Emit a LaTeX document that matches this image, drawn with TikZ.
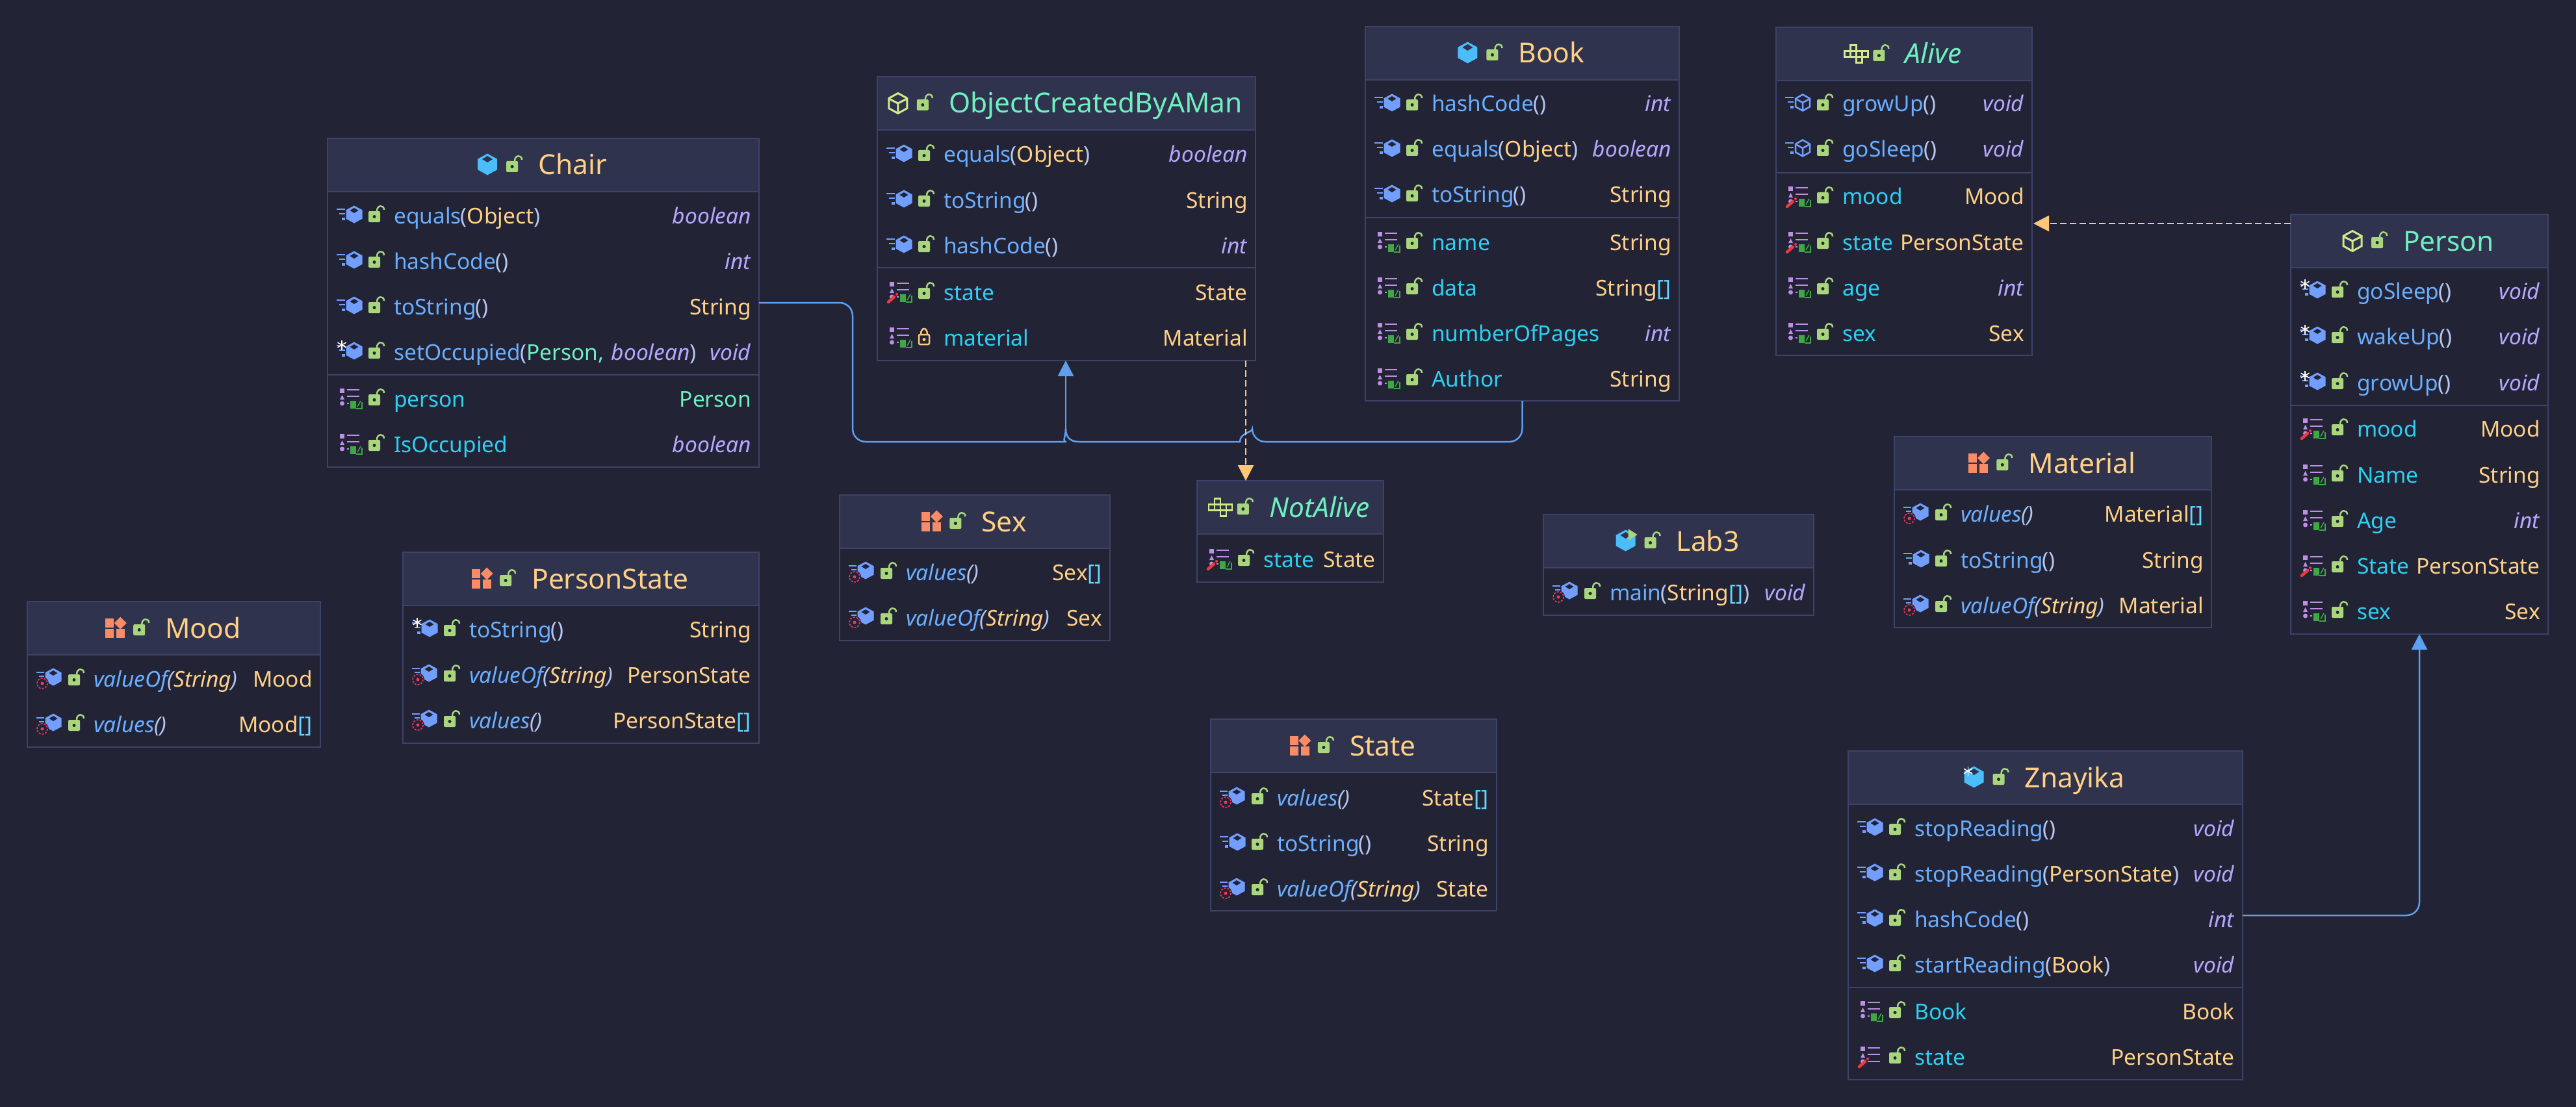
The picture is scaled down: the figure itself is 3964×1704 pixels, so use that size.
\documentclass[tikz,border=0pt]{standalone}
\usepackage{fontspec}
\setmainfont{Noto Sans}
\usetikzlibrary{arrows.meta}

\definecolor{bgcol}{HTML}{222436}
\definecolor{headcol}{HTML}{2F334D}
\definecolor{bordercol}{HTML}{3D4268}
\definecolor{mthcol}{HTML}{6AAEFF}
\definecolor{fldcol}{HTML}{2DD0F2}
\definecolor{parcol}{HTML}{B5C5EE}
\definecolor{typecol}{HTML}{FFD086}
\definecolor{primcol}{HTML}{B3A7FF}
\definecolor{brackcol}{HTML}{66D2FF}
\definecolor{greencol}{HTML}{6FF0C0}
\definecolor{hexcol}{HTML}{729FFF}
\definecolor{classblue}{HTML}{4BBDFB}
\definecolor{limecol}{HTML}{D4E88A}
\definecolor{enumcol}{HTML}{F98B66}
\definecolor{lockcol}{HTML}{A9D67C}
\definecolor{purpcol}{HTML}{BF8FE6}
\definecolor{bookcol}{HTML}{3FA845}
\definecolor{pencol}{HTML}{F03A3A}
\definecolor{staticcol}{HTML}{F5365C}
\definecolor{linkcol}{HTML}{5F9FF0}
\definecolor{depcol}{HTML}{FFC777}

\newcommand{\hexshape}[4]{({#1},{#2-#4}) -- ({#1+#3},{#2-#4/2}) -- ({#1+#3},{#2+#4/2}) -- ({#1},{#2+#4}) -- ({#1-#3},{#2+#4/2}) -- ({#1-#3},{#2-#4/2}) -- cycle}
\newcommand{\gemshape}[4]{({#1},{#2-#4}) -- ({#1+#3},{#2}) -- ({#1},{#2+#4}) -- ({#1-#3},{#2}) -- cycle}

\newcommand{\mn}[1]{\textcolor{mthcol}{#1}}
\newcommand{\fn}[1]{\textcolor{fldcol}{#1}}
\newcommand{\ty}[1]{\textcolor{typecol}{#1}}
\newcommand{\gty}[1]{\textcolor{greencol}{#1}}
\newcommand{\pty}[1]{\textcolor{primcol}{\textit{#1}}}
\newcommand{\arr}{\textcolor{brackcol}{[]}}
\newcommand{\call}[2]{\mn{#1}\kern-1pt\textcolor{parcol}{(}#2\textcolor{parcol}{)}}
\newcommand{\scall}[2]{\textit{\mn{#1}\kern-1pt\textcolor{parcol}{(}#2\textcolor{parcol}{)}}}

\tikzset{
  boxline/.style={draw=bordercol,line width=2.5pt},
  classbody/.style={boxline,fill=bgcol,rectangle,outer sep=0pt,inner sep=0pt,anchor=north west},
  classhead/.style={boxline,fill=headcol,rectangle,outer sep=0pt,inner sep=0pt,anchor=north,minimum height=82pt},
  classtitle/.style={inner sep=0pt,anchor=base,text height=30pt,text depth=0pt,font=\fontsize{42.5}{49}\selectfont},
  rowtext/.style={inner sep=0pt,font=\fontsize{33.5}{40}\selectfont},
  linkline/.style={draw=linkcol,line width=2.5pt,-,rounded corners=20pt},
  depline/.style={draw=depcol,line width=2.5pt,dash pattern=on 10pt off 5pt},
  pics/flake/.style={code={
    \foreach \a in {30,90,150}
      \draw[white,line width=1.5pt] ({7.5*cos(\a)},{7.5*sin(\a)}) -- ({-7.5*cos(\a)},{-7.5*sin(\a)});
  }},
  pics/mthlines/.style={code={
    \draw[hexcol,line width=2.5pt] (14,-10) -- (27,-10) (18,-3) -- (27,-3);
    \fill[hexcol] (22,3) rectangle (27,7);
  }},
  pics/mth/.style={code={
    \pic {mthlines};
    \fill[hexcol] \hexshape{41}{-2}{12.5}{13.5};
    \fill[bgcol] \gemshape{41}{-8}{6.5}{4};
  }},
  pics/mthover/.style={code={
    \pic {mth};
    \pic at (22,-11) {flake};
  }},
  pics/mthline/.style={code={
    \pic {mthlines};
    \draw[hexcol,line width=2.5pt] \hexshape{41}{-2}{11}{12.5};
    \draw[hexcol,line width=2.5pt] (30,-8) -- (41,-2) -- (52,-8) (41,-2) -- (41,10);
  }},
  pics/mthstatic/.style={code={
    \draw[hexcol,line width=2.5pt] (14,-10) -- (26,-10) (18,-4) -- (26,-4);
    \fill[hexcol] \hexshape{40}{-3}{12.5}{13.5};
    \fill[bgcol] \gemshape{40}{-9}{6.5}{4};
    \fill[bgcol] (23,7) circle[radius=10];
    \draw[staticcol,line width=1.6pt,dash pattern=on 3pt off 2pt] (23,7) circle[radius=8];
    \fill[staticcol] (23,7) circle[radius=2.5];
  }},
  pics/fldbase/.style={code={
    \fill[purpcol] (19,-16) rectangle (26,-9);
    \fill[purpcol] (19,1) -- (26,1) -- (22.5,-6) -- cycle;
    \fill[purpcol] (22.5,7) circle[radius=3.5];
    \draw[purpcol,line width=2.5pt] (30,-14) -- (49,-14) (30,-4) -- (49,-4) (30,7) -- (49,7);
  }},
  pics/fldbookmark/.style={code={
    \fill[bgcol] (33,2) rectangle (55,17);
    \fill[bookcol] (35,3) rectangle (44,15);
    \draw[bookcol,line width=1.5pt] (44,15) -- (53,15) -- (53,5);
    \draw[bookcol,line width=1.5pt] (46,12) -- (51,3);
  }},
  pics/fldpen/.style={code={
    \draw[pencol,line width=4.5pt,line cap=round] (17,15) -- (26,7);
    \fill[pencol] (30,3) circle[radius=2];
  }},
  pics/fld/.style={code={
    \pic {fldbase};
    \pic {fldbookmark};
  }},
  pics/fldwrite/.style={code={
    \pic {fldbase};
    \pic {fldpen};
    \pic {fldbookmark};
  }},
  pics/fldnobook/.style={code={
    \pic {fldbase};
    \pic {fldpen};
  }},
  pics/lockopen/.style={code={
    \fill[lockcol,rounded corners=2pt] (0,-7) rectangle (18,10);
    \fill[bgcol] (9,1.5) circle[radius=2.5];
    \draw[lockcol,line width=2.5pt] (13,-7) .. controls (13,-17) and (24,-17) .. (24,-9);
  }},
  pics/lockshut/.style={code={
    \draw[depcol,line width=2.5pt,rounded corners=2pt] (1,-5) rectangle (17,10);
    \fill[depcol] (9,2.5) circle[radius=2.5];
    \draw[depcol,line width=2.5pt] (4,-5) .. controls (4,-17) and (14,-17) .. (14,-5);
  }},
  pics/hexblue/.style={code={
    \fill[classblue] \hexshape{-78}{-1}{15}{16.5};
    \fill[headcol] \gemshape{-78}{-9}{8}{5};
  }},
  pics/hexrun/.style={code={
    \pic {hexblue};
    \fill[lockcol] (-74,-19) -- (-60,-10) -- (-74,-1) -- cycle;
  }},
  pics/hexfrost/.style={code={
    \pic {hexblue};
    \pic at (-87,-10) {flake};
  }},
  pics/hexoutline/.style={code={
    \draw[limecol,line width=3pt] \hexshape{-78}{0}{14}{15.5};
    \draw[limecol,line width=3pt] (-92,-7) -- (-78,0) -- (-64,-7) (-78,0) -- (-78,15);
  }},
  pics/ifacegrid/.style={code={
    \draw[limecol,line width=2.5pt] (-84,-13.5) rectangle (-75,-4.5);
    \draw[limecol,line width=2.5pt] (-93,-4.5) rectangle (-57,4.5);
    \draw[limecol,line width=2.5pt] (-84,-4.5) -- (-84,4.5) (-75,-4.5) -- (-75,4.5) (-66,-4.5) -- (-66,4.5);
    \draw[limecol,line width=2.5pt] (-75,4.5) rectangle (-66,13.5);
  }},
  pics/enumgrid/.style={code={
    \fill[enumcol] (-92,-15) rectangle (-79,-1);
    \fill[enumcol] (-92,1) rectangle (-79,15);
    \fill[enumcol] (-75,1) rectangle (-62,15);
    \fill[enumcol] \gemshape{-69}{-8}{9.5}{9.5};
  }}
}

\newcommand{\classbox}[8]{
  \node[classbody,minimum width=#4pt,minimum height=#5pt] (#1) at (#2,#3) {};
  \node[classhead,minimum width=#4pt] (#1Head) at (#1.north) {};
  \node[classtitle] (#1Title) at ([xshift=45,yshift=-15]#1Head.center) {#7};
  \pic at (#1Title.west) {#6};
  \pic at ([xshift=-49,yshift=-1]#1Title.west) {lockopen};
  \if\relax#8\relax\else
    \draw[boxline] ([yshift=-#8]#1.north west) -- ([yshift=-#8]#1.north east);
  \fi
}

\newcommand{\memberrow}[7]{
  \coordinate (#1#2) at ([yshift={-(#3-6)}]#1.north east);
  \pic at ([yshift=-#3]#1.north west) {#4};
  \pic at ([xshift=63,yshift=-#3]#1.north west) {#5};
  \node[rowtext,anchor=base west] (#1#2L) at ([xshift=102,yshift={-(#3+12)}]#1.north west) {#6};
  \node[rowtext,anchor=base east] (#1#2R) at ([xshift=-12,yshift={-(#3+12)}]#1.north east) {#7};
}

\begin{document}
\begin{tikzpicture}[x=1pt,y=-1pt,>={Triangle[length=24pt,width=24pt]}]
  \fill[bgcol] (0,0) rectangle (3964,1704);
  \useasboundingbox (0,0) rectangle (3964,1704);

  \classbox{Chair}{504}{213}{664}{506}{hexblue}{\ty{Chair}}{364}
  \memberrow{Chair}{M1}{119}{mth}{lockopen}{\call{equals}{\ty{Object}}}{\pty{boolean}}
  \memberrow{Chair}{M2}{189}{mth}{lockopen}{\call{hashCode}{}}{\pty{int}}
  \memberrow{Chair}{M3}{259}{mth}{lockopen}{\call{toString}{}}{\ty{String}}
  \memberrow{Chair}{M4}{329}{mthover}{lockopen}{\call{setOccupied}{\gty{Person,}\kern3pt\ \pty{boolean}}}{\pty{void}}
  \memberrow{Chair}{F1}{401}{fld}{lockopen}{\fn{person}}{\gty{Person}}
  \memberrow{Chair}{F2}{471}{fld}{lockopen}{\fn{IsOccupied}}{\pty{boolean}}

  \classbox{Object}{1350}{118}{582}{437}{hexoutline}{\gty{ObjectCreatedByAMan}}{294}
  \memberrow{Object}{M1}{120}{mth}{lockopen}{\call{equals}{\ty{Object}}}{\pty{boolean}}
  \memberrow{Object}{M2}{190}{mth}{lockopen}{\call{toString}{}}{\ty{String}}
  \memberrow{Object}{M3}{260}{mth}{lockopen}{\call{hashCode}{}}{\pty{int}}
  \memberrow{Object}{F1}{332}{fldwrite}{lockopen}{\fn{state}}{\ty{State}}
  \memberrow{Object}{F2}{402}{fld}{lockshut}{\fn{material}}{\ty{Material}}

  \classbox{Book}{2101}{41}{483}{576}{hexblue}{\ty{Book}}{294}
  \memberrow{Book}{M1}{119}{mth}{lockopen}{\call{hashCode}{}}{\pty{int}}
  \memberrow{Book}{M2}{189}{mth}{lockopen}{\call{equals}{\ty{Object}}}{\pty{boolean}}
  \memberrow{Book}{M3}{259}{mth}{lockopen}{\call{toString}{}}{\ty{String}}
  \memberrow{Book}{F1}{332}{fld}{lockopen}{\fn{name}}{\ty{String}}
  \memberrow{Book}{F2}{402}{fld}{lockopen}{\fn{data}}{\ty{String}\arr}
  \memberrow{Book}{F3}{472}{fld}{lockopen}{\fn{numberOfPages}}{\pty{int}}
  \memberrow{Book}{F4}{542}{fld}{lockopen}{\fn{Author}}{\ty{String}}

  \classbox{Alive}{2733}{42}{394}{505}{ifacegrid}{\textcolor{greencol}{\textit{Alive}}}{224}
  \memberrow{Alive}{M1}{118}{mthline}{lockopen}{\call{growUp}{}}{\pty{void}}
  \memberrow{Alive}{M2}{188}{mthline}{lockopen}{\call{goSleep}{}}{\pty{void}}
  \memberrow{Alive}{F1}{261}{fldwrite}{lockopen}{\fn{mood}}{\ty{Mood}}
  \memberrow{Alive}{F2}{331}{fldwrite}{lockopen}{\fn{state}}{\ty{PersonState}}
  \memberrow{Alive}{F3}{401}{fld}{lockopen}{\fn{age}}{\pty{int}}
  \memberrow{Alive}{F4}{471}{fld}{lockopen}{\fn{sex}}{\ty{Sex}}

  \classbox{Person}{3525}{330}{396}{646}{hexoutline}{\gty{Person}}{294}
  \memberrow{Person}{M1}{118}{mthover}{lockopen}{\call{goSleep}{}}{\pty{void}}
  \memberrow{Person}{M2}{188}{mthover}{lockopen}{\call{wakeUp}{}}{\pty{void}}
  \memberrow{Person}{M3}{259}{mthover}{lockopen}{\call{growUp}{}}{\pty{void}}
  \memberrow{Person}{F1}{330}{fldwrite}{lockopen}{\fn{mood}}{\ty{Mood}}
  \memberrow{Person}{F2}{401}{fld}{lockopen}{\fn{Name}}{\ty{String}}
  \memberrow{Person}{F3}{471}{fld}{lockopen}{\fn{Age}}{\pty{int}}
  \memberrow{Person}{F4}{541}{fldwrite}{lockopen}{\fn{State}}{\ty{PersonState}}
  \memberrow{Person}{F5}{611}{fld}{lockopen}{\fn{sex}}{\ty{Sex}}

  \classbox{Znayika}{2844}{1156}{607}{506}{hexfrost}{\ty{Znayika}}{364}
  \memberrow{Znayika}{M1}{119}{mth}{lockopen}{\call{stopReading}{}}{\pty{void}}
  \memberrow{Znayika}{M2}{189}{mth}{lockopen}{\call{stopReading}{\ty{PersonState}}}{\pty{void}}
  \memberrow{Znayika}{M3}{259}{mth}{lockopen}{\call{hashCode}{}}{\pty{int}}
  \memberrow{Znayika}{M4}{329}{mth}{lockopen}{\call{startReading}{\ty{Book}}}{\pty{void}}
  \memberrow{Znayika}{F1}{401}{fld}{lockopen}{\fn{Book}}{\ty{Book}}
  \memberrow{Znayika}{F2}{471}{fldnobook}{lockopen}{\fn{state}}{\ty{PersonState}}

  \classbox{Mood}{42}{926}{451}{224}{enumgrid}{\ty{Mood}}{}
  \memberrow{Mood}{M1}{119}{mthstatic}{lockopen}{\scall{valueOf}{\ty{String}}}{\ty{Mood}}
  \memberrow{Mood}{M2}{189}{mthstatic}{lockopen}{\scall{values}{}}{\ty{Mood}\arr}

  \classbox{PersonState}{620}{850}{548}{294}{enumgrid}{\ty{PersonState}}{}
  \memberrow{PersonState}{M1}{119}{mthover}{lockopen}{\call{toString}{}}{\ty{String}}
  \memberrow{PersonState}{M2}{189}{mthstatic}{lockopen}{\scall{valueOf}{\ty{String}}}{\ty{PersonState}}
  \memberrow{PersonState}{M3}{259}{mthstatic}{lockopen}{\scall{values}{}}{\ty{PersonState}\arr}

  \classbox{Sex}{1292}{762}{416}{224}{enumgrid}{\ty{Sex}}{}
  \memberrow{Sex}{M1}{119}{mthstatic}{lockopen}{\scall{values}{}}{\ty{Sex}\arr}
  \memberrow{Sex}{M2}{189}{mthstatic}{lockopen}{\scall{valueOf}{\ty{String}}}{\ty{Sex}}

  \classbox{NotAlive}{1842}{740}{287}{156}{ifacegrid}{\textcolor{greencol}{\textit{NotAlive}}}{}
  \memberrow{NotAlive}{F1}{121}{fldwrite}{lockopen}{\fn{state}}{\ty{State}}

  \classbox{Lab3}{2375}{792}{416}{155}{hexrun}{\ty{Lab3}}{}
  \memberrow{Lab3}{M1}{120}{mthstatic}{lockopen}{\call{main}{\ty{String}\arr}}{\pty{void}}

  \classbox{State}{1863}{1107}{440}{295}{enumgrid}{\ty{State}}{}
  \memberrow{State}{M1}{121}{mthstatic}{lockopen}{\scall{values}{}}{\ty{State}\arr}
  \memberrow{State}{M2}{191}{mth}{lockopen}{\call{toString}{}}{\ty{String}}
  \memberrow{State}{M3}{261}{mthstatic}{lockopen}{\scall{valueOf}{\ty{String}}}{\ty{State}}

  \classbox{Material}{2915}{672}{488}{294}{enumgrid}{\ty{Material}}{}
  \memberrow{Material}{M1}{119}{mthstatic}{lockopen}{\scall{values}{}}{\ty{Material}\arr}
  \memberrow{Material}{M2}{190}{mth}{lockopen}{\call{toString}{}}{\ty{String}}
  \memberrow{Material}{M3}{260}{mthstatic}{lockopen}{\scall{valueOf}{\ty{String}}}{\ty{Material}}

  \coordinate (chairBend) at (1312,680);
  \coordinate (mergeL) at (1621,680);
  \coordinate (mergeR) at (1660,680);
  \coordinate (mergeUp) at (1640,660);
  \coordinate (jumpR) at (1927,680);
  \coordinate (jumpL) at (1908,680);
  \coordinate (notAliveIn) at (1917,740);
  \coordinate (aliveIn) at (3129,344);

  \draw[linkline] (ChairM3) -| (chairBend) -- (mergeL) [sharp corners] .. controls (1634,680) and (1640,672) .. (mergeUp);
  \draw[linkline] (Book.south) |- (jumpR) [sharp corners] .. controls (1927,666) and (1908,666) .. (jumpL) -- (mergeR) .. controls (1646,680) and (1640,672) .. (mergeUp);
  \draw[linkline,->] (mergeUp) -- (mergeUp |- Object.south);
  \draw[linkline,->] (ZnayikaM3) -| (Person.south);
  \draw[depline,->,solid] (notAliveIn |- 0,716) -- (notAliveIn);
  \draw[depline] (notAliveIn |- Object.south) -- (notAliveIn |- 0,716);
  \draw[depline] (Person.west |- aliveIn) -- (3152,344);
  \draw[depline,->,solid] (3152,344) -- (aliveIn);
\end{tikzpicture}
\end{document}
